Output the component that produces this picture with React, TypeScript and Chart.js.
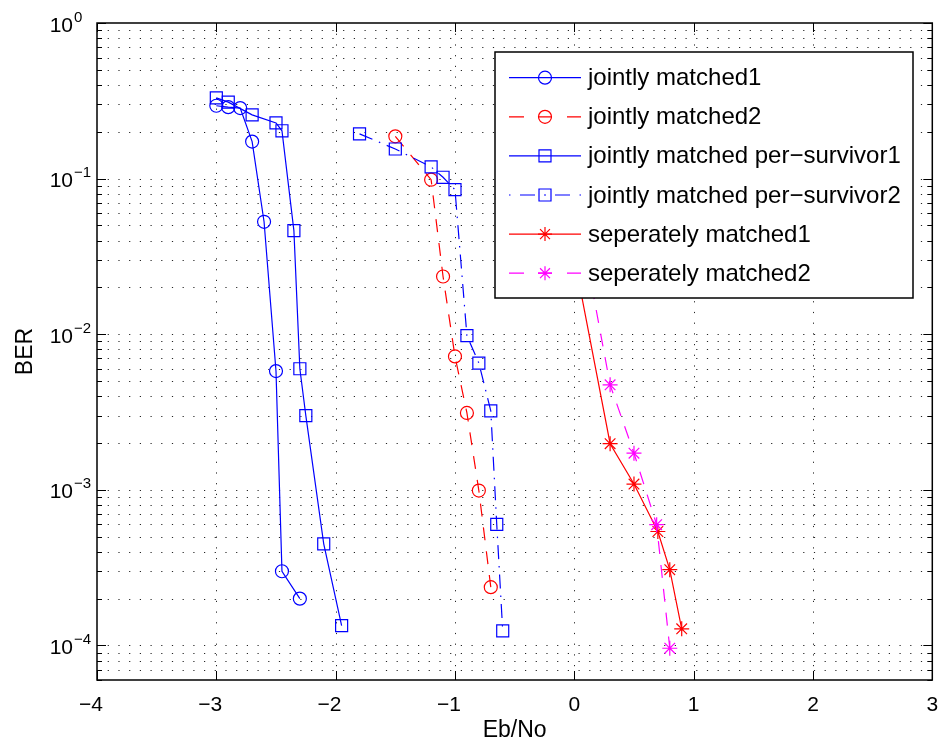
import React, { useEffect, useRef } from 'react';
import { Chart, registerables } from 'chart.js';

Chart.register(...registerables);

// ---- data ----
const jm1X = [-3, -2.9, -2.8, -2.7, -2.6, -2.5, -2.45, -2.3];
const jm1Y = [0.294, 0.288, 0.284, 0.173, 0.0528, 0.0058, 3.0e-4, 2.0e-4];

const jm2X = [-1.5, -1.2, -1.1, -1.0, -0.9, -0.8, -0.7];
const jm2Y = [0.187, 0.0984, 0.0235, 0.0072, 0.00312, 9.9e-4, 2.37e-4];

const jmps1X = [-3, -2.9, -2.7, -2.5, -2.45, -2.35, -2.3, -2.25, -2.1, -1.95];
const jmps1Y = [0.33, 0.31, 0.257, 0.228, 0.203, 0.0463, 0.006, 0.003, 4.5e-4, 1.34e-4];

const jmps2X = [-1.8, -1.5, -1.2, -1.1, -1.0, -0.9, -0.8, -0.7, -0.65, -0.6];
const jmps2Y = [0.194, 0.155, 0.119, 0.102, 0.0849, 0.0098, 0.00653, 0.00322, 6.0e-4, 1.24e-4];

const sm1X = [0.0, 0.3, 0.5, 0.7, 0.8, 0.9];
const sm1Y = [0.031, 0.00198, 0.00109, 5.4e-4, 3.07e-4, 1.28e-4];

const sm2X = [0.0, 0.3, 0.5, 0.69, 0.8];
const sm2Y = [0.082, 0.00473, 0.00172, 5.97e-4, 9.6e-5];

const seriesLabels = [
  'jointly matched1',
  'jointly matched2',
  'jointly matched per\u2212survivor1',
  'jointly matched per\u2212survivor2',
  'seperately matched1',
  'seperately matched2',
];

const xTicks = [-4, -3, -2, -1, 0, 1, 2, 3];
const yDecades = [-4, -3, -2, -1, 0];
const xTitle = 'Eb/No';
const yTitle = 'BER';

// ---- styles ----
const FONT = '"Liberation Sans", Arial, Helvetica, sans-serif';
const BLUE = '#0000ff';
const RED = '#ff0000';
const MAGENTA = '#ff00ff';
const DASH = [13, 11];
const DASHDOT = [14, 7, 1.5, 7];

type Marker = 'circle' | 'rect' | 'star';
const styles: { color: string; dash: number[]; marker: Marker; legendSegs: number[][] }[] = [
  { color: BLUE, dash: [], marker: 'circle', legendSegs: [[509, 581]] },
  { color: RED, dash: DASH, marker: 'circle', legendSegs: [[509, 524], [538, 552], [567, 581]] },
  { color: BLUE, dash: [], marker: 'rect', legendSegs: [[509, 581]] },
  { color: BLUE, dash: DASHDOT, marker: 'rect', legendSegs: [[509, 510.5], [520, 535], [544, 546], [555, 570], [579.5, 581]] },
  { color: RED, dash: [], marker: 'star', legendSegs: [[509, 581]] },
  { color: MAGENTA, dash: DASH, marker: 'star', legendSegs: [[509, 524], [538, 552], [567, 581]] },
];
const markerRadius: Record<Marker, number> = { circle: 6.5, rect: 8.5, star: 7.5 };

function pts(xs: number[], ys: number[]) {
  return xs.map((x, i) => ({ x, y: ys[i] }));
}

function drawMarker(ctx: CanvasRenderingContext2D, m: Marker, x: number, y: number) {
  ctx.beginPath();
  if (m === 'circle') {
    ctx.arc(x, y, 6.5, 0, Math.PI * 2);
  } else if (m === 'rect') {
    ctx.rect(x - 6, y - 6, 12, 12);
  } else {
    const r = 7;
    const d = r * Math.SQRT1_2;
    ctx.moveTo(x - r, y); ctx.lineTo(x + r, y);
    ctx.moveTo(x, y - r); ctx.lineTo(x, y + r);
    ctx.moveTo(x - d, y - d); ctx.lineTo(x + d, y + d);
    ctx.moveTo(x - d, y + d); ctx.lineTo(x + d, y - d);
  }
  ctx.stroke();
}

const matlabPlugin = {
  id: 'matlabLook',
  beforeDatasetsDraw(chart: any) {
    const { ctx, chartArea: a, scales } = chart;
    const x = scales.x;
    const y = scales.y;
    ctx.save();
    ctx.strokeStyle = 'rgba(0,0,0,0.85)';
    ctx.lineWidth = 1;
    ctx.setLineDash([1.2, 9.5]);
    for (const t of xTicks) {
      if (t <= x.min || t >= x.max) continue;
      const px = Math.round(x.getPixelForValue(t)) + 0.5;
      ctx.beginPath();
      ctx.moveTo(px, a.top);
      ctx.lineTo(px, a.bottom);
      ctx.stroke();
    }
    for (let d = -6; d <= 0; d++) {
      for (let m = 1; m <= 9; m++) {
        const v = m * Math.pow(10, d);
        if (v <= y.min * 1.001 || v >= y.max * 0.999) continue;
        const py = Math.round(y.getPixelForValue(v)) + 0.5;
        ctx.beginPath();
        ctx.moveTo(a.left, py);
        ctx.lineTo(a.right, py);
        ctx.stroke();
      }
    }
    ctx.restore();
  },
  afterDatasetsDraw(chart: any) {
    const { ctx, chartArea: a, scales } = chart;
    const x = scales.x;
    const y = scales.y;
    ctx.save();
    ctx.setLineDash([]);
    ctx.strokeStyle = '#000';
    ctx.lineWidth = 1;
    // ticks (inward, all four sides)
    ctx.beginPath();
    for (const t of xTicks) {
      const px = Math.round(x.getPixelForValue(t)) + 0.5;
      ctx.moveTo(px, a.bottom); ctx.lineTo(px, a.bottom - 9);
      ctx.moveTo(px, a.top); ctx.lineTo(px, a.top + 9);
    }
    for (let d = -6; d <= 0; d++) {
      for (let m = 1; m <= 9; m++) {
        const v = m * Math.pow(10, d);
        if (v < y.min * 0.999 || v > y.max * 1.001) continue;
        const py = Math.round(y.getPixelForValue(v)) + 0.5;
        const len = m === 1 ? 9 : 5;
        ctx.moveTo(a.left, py); ctx.lineTo(a.left + len, py);
        ctx.moveTo(a.right, py); ctx.lineTo(a.right - len, py);
      }
    }
    ctx.stroke();
    // box
    ctx.lineWidth = 1.5;
    ctx.strokeRect(a.left, a.top, a.right - a.left, a.bottom - a.top);

    // tick labels
    ctx.fillStyle = '#000';
    ctx.textBaseline = 'alphabetic';
    for (const d of yDecades) {
      const py = y.getPixelForValue(Math.pow(10, d));
      ctx.font = `21px ${FONT}`;
      ctx.textAlign = 'right';
      ctx.fillText('10', 73, py + 8.5);
      ctx.font = `15px ${FONT}`;
      ctx.textAlign = 'left';
      ctx.fillText(d === 0 ? '0' : '\u2212' + String(-d), 74, py - 1.5);
    }
    ctx.font = `21px ${FONT}`;
    for (const t of xTicks) {
      const px = x.getPixelForValue(t);
      const digits = String(Math.abs(t));
      const w = ctx.measureText(digits).width;
      ctx.textAlign = 'left';
      ctx.fillText(digits, px - w / 2, a.bottom + 30.5);
      if (t < 0) {
        ctx.textAlign = 'right';
        ctx.fillText('\u2212', px - w / 2, a.bottom + 30.5);
      }
    }
    // axis titles
    ctx.font = `23px ${FONT}`;
    ctx.textAlign = 'center';
    ctx.fillText(xTitle, (a.left + a.right) / 2, 737);
    ctx.save();
    ctx.translate(32, (a.top + a.bottom) / 2);
    ctx.rotate(-Math.PI / 2);
    ctx.fillText(yTitle, 0, 0);
    ctx.restore();

    // legend
    const L = 495, T = 52, R = 913, B = 298;
    ctx.fillStyle = '#fff';
    ctx.fillRect(L, T, R - L, B - T);
    ctx.lineWidth = 1.5;
    ctx.strokeStyle = '#000';
    ctx.strokeRect(L, T, R - L, B - T);
    seriesLabels.forEach((label, i) => {
      const st = styles[i];
      const cy = 77.7 + i * 39.1;
      ctx.strokeStyle = st.color;
      ctx.lineWidth = 1.2;
      ctx.beginPath();
      for (const [s, e] of st.legendSegs) {
        ctx.moveTo(s, cy); ctx.lineTo(e, cy);
      }
      ctx.stroke();
      drawMarker(ctx, st.marker, 545, cy);
      ctx.fillStyle = '#000';
      ctx.font = `24px ${FONT}`;
      ctx.textAlign = 'left';
      ctx.fillText(label, 588, cy + 7.5);
    });
    ctx.restore();
  },
};

export default function App() {
  const ref = useRef<HTMLCanvasElement | null>(null);
  useEffect(() => {
    if (!ref.current) return;
    const series = [
      pts(jm1X, jm1Y),
      pts(jm2X, jm2Y),
      pts(jmps1X, jmps1Y),
      pts(jmps2X, jmps2Y),
      pts(sm1X, sm1Y),
      pts(sm2X, sm2Y),
    ];
    const chart = new Chart(ref.current, {
      type: 'line',
      data: {
        datasets: series.map((data, i) => ({
          label: seriesLabels[i],
          data,
          borderColor: styles[i].color,
          backgroundColor: 'transparent',
          borderWidth: 1.2,
          borderDash: styles[i].dash,
          pointStyle: styles[i].marker,
          pointRadius: markerRadius[styles[i].marker],
          pointBorderWidth: 1.2,
          pointBorderColor: styles[i].color,
          pointBackgroundColor: 'transparent',
          fill: false,
          tension: 0,
          order: 5 - i,
        })),
      },
      options: {
        animation: false,
        responsive: false,
        events: [],
        layout: { padding: { left: 0, right: 8, top: 23, bottom: 0 } },
        plugins: { legend: { display: false }, tooltip: { enabled: false } },
        scales: {
          x: {
            type: 'linear', min: -4, max: 3,
            ticks: { display: false }, grid: { display: false }, border: { display: false },
            afterFit: (s: any) => { s.height = 65; },
          },
          y: {
            type: 'logarithmic', min: 6e-5, max: 1,
            ticks: { display: false }, grid: { display: false }, border: { display: false },
            afterFit: (s: any) => { s.width = 97; },
          },
        },
      },
      plugins: [matlabPlugin],
    } as any);
    return () => chart.destroy();
  }, []);
  return (
    <div style={{ position: 'fixed', left: 0, top: 0, width: 942, height: 745, background: '#fff' }}>
      <canvas ref={ref} width={942} height={745} style={{ width: 942, height: 745, display: 'block' }} />
    </div>
  );
}
